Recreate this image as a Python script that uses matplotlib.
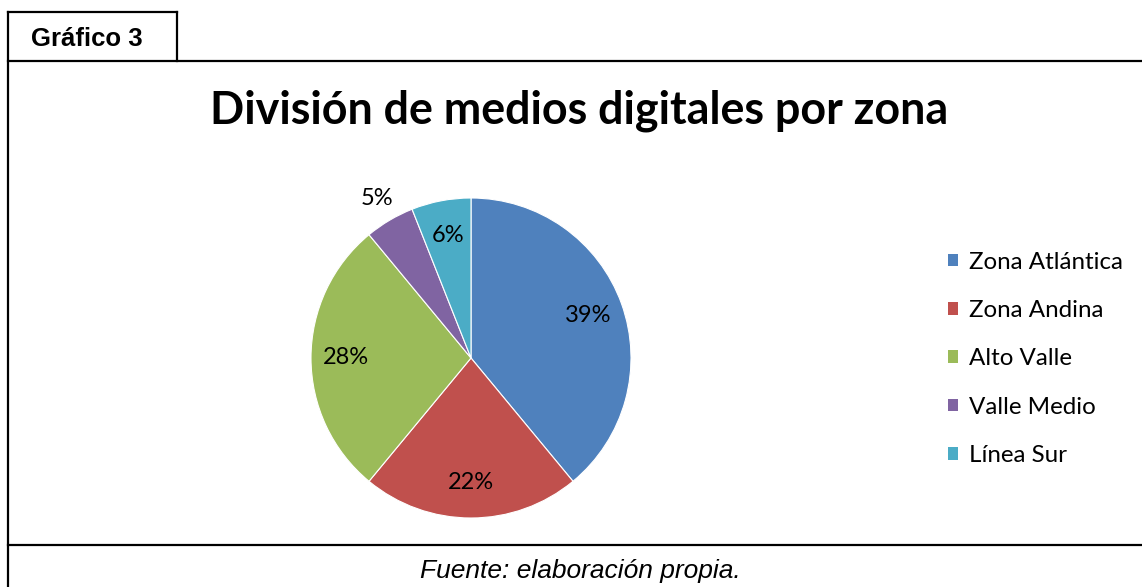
import numpy as np
import matplotlib
matplotlib.use('Agg')
import matplotlib.pyplot as plt
from matplotlib.patches import Patch
from matplotlib.lines import Line2D

# Datos del gráfico
zonas = ['Zona Atlántica', 'Zona Andina', 'Alto Valle', 'Valle Medio', 'Línea Sur']
porcentajes = [39, 22, 28, 5, 6]
colores = ['#4F81BD', '#C0504D', '#9BBB59', '#8064A2', '#4BACC6']
titulo = 'División de medios digitales por zona'
etiqueta_tab = 'Gráfico 3'
fuente = 'Fuente: elaboración propia.'

W, H = 1142, 587
fig = plt.figure(figsize=(W / 100, H / 100), dpi=100)

def px(x, y):
    # pixel coords (origen arriba-izquierda) -> fracción de figura
    return x / W, 1 - y / H

# Marco y pestaña
lw = 1.6
def linea(x0, y0, x1, y1):
    a, b = px(x0, y0)
    c, d = px(x1, y1)
    fig.add_artist(Line2D([a, c], [b, d], transform=fig.transFigure, color='black', lw=lw))

linea(8, 12, 177, 12)
linea(177, 12, 177, 61)
linea(8, 12, 8, 587)
linea(8, 61, 1142, 61)
linea(8, 545, 1142, 545)

fig.text(*px(87, 39), etiqueta_tab, family='Liberation Sans', weight='bold',
         fontsize=18.5, ha='center', va='center')
fig.text(*px(579, 111), titulo, family='Lato', weight='bold',
         fontsize=32.3, ha='center', va='center')
fig.text(*px(580, 571), fuente, family='Liberation Sans', style='italic',
         fontsize=19, ha='center', va='center')

# Pastel
cx, cy, R = 471, 358, 160
ax = fig.add_axes([(cx - R) / W, (H - cy - R) / H, 2 * R / W, 2 * R / H])
wedges, _ = ax.pie(porcentajes, colors=colores, startangle=90, counterclock=False,
                   radius=1, wedgeprops=dict(edgecolor='white', linewidth=0.8))
ax.set_xlim(-1, 1)
ax.set_ylim(-1, 1)
ax.set_aspect('equal')
ax.axis('off')

for w, p in zip(wedges, porcentajes):
    ang = np.deg2rad((w.theta1 + w.theta2) / 2)
    d = 1.16 if p == 5 else 0.78
    ax.text(d * np.cos(ang), d * np.sin(ang), f'{p}%', family='Lato',
            fontsize=17, ha='center', va='center')

# Leyenda
handles = [Patch(facecolor=c, edgecolor='none') for c in colores]
fig.legend(handles, zonas, loc='upper left', bbox_to_anchor=px(938, 242),
           frameon=False, prop=dict(family='Lato', size=17.4),
           handlelength=0.42, handleheight=0.42, handletextpad=0.45,
           labelspacing=1.13, borderaxespad=0)

fig.savefig('out.png', dpi=100)
